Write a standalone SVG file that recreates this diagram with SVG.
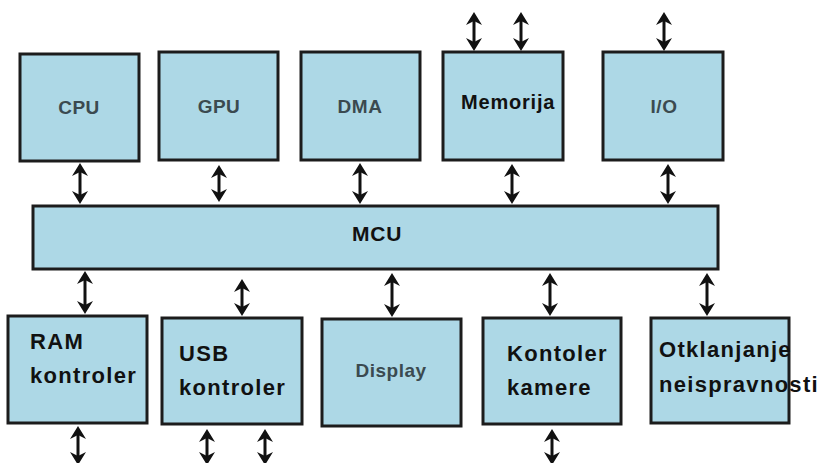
<svg xmlns="http://www.w3.org/2000/svg" width="821" height="463" viewBox="0 0 821 463">
<style>
.box{fill:#add8e6;stroke:#1c1c1c;stroke-width:3}
.g{font-family:"Liberation Sans",Arial,sans-serif;font-weight:bold;font-size:19px;fill:#3b4a50;text-anchor:middle;letter-spacing:0.5px}
.t{font-family:"Liberation Sans",Arial,sans-serif;font-weight:bold;font-size:22px;fill:#111;letter-spacing:1.3px}
.c{fill:none;stroke:#111;stroke-width:3;marker-start:url(#ah);marker-end:url(#ah)}
</style>
<defs>
<marker id="ah" markerUnits="userSpaceOnUse" markerWidth="14" markerHeight="16" viewBox="0 0 14 16" refX="10" refY="8" orient="auto-start-reverse">
<path d="M0,0 L13,8 L0,16 L4,8 z" fill="#111"/>
</marker>
</defs>
<rect width="821" height="463" fill="#fff"/>
<g id="cpu"><rect class="box" x="20" y="54" width="119" height="107"/><text class="g" x="79" y="114">CPU</text></g>
<g id="gpu"><rect class="box" x="159" y="52" width="119" height="108"/><text class="g" x="219" y="113">GPU</text></g>
<g id="dma"><rect class="box" x="301" y="52" width="119" height="108"/><text class="g" x="360" y="113">DMA</text></g>
<g id="memorija"><rect class="box" x="443" y="52" width="120" height="108"/><text class="t" x="461" y="109" style="font-size:20px;letter-spacing:0.8px">Memorija</text></g>
<g id="io"><rect class="box" x="603" y="52" width="120" height="108"/><text class="g" x="664" y="113">I/O</text></g>
<g id="mcu"><rect class="box" x="33" y="206" width="685" height="63"/><text class="t" x="352" y="241" style="font-size:21px;letter-spacing:0.8px">MCU</text></g>
<g id="ram"><rect class="box" x="8" y="316" width="139" height="107"/><text class="t" x="30" y="349">RAM</text><text class="t" x="30" y="383">kontroler</text></g>
<g id="usb"><rect class="box" x="162" y="318" width="140" height="106"/><text class="t" x="179" y="361">USB</text><text class="t" x="179" y="395">kontroler</text></g>
<g id="display"><rect class="box" x="322" y="319" width="139" height="107"/><text class="g" x="391" y="377">Display</text></g>
<g id="kamera"><rect class="box" x="483" y="318" width="138" height="106"/><text class="t" x="507" y="361">Kontoler</text><text class="t" x="507" y="395">kamere</text></g>
<g id="otklanjanje"><rect class="box" x="651" y="318" width="138" height="105"/><text class="t" x="659" y="357">Otklanjanje</text><text class="t" x="659" y="392">neispravnosti</text></g>
<g id="connectors">
<line class="c" x1="80" y1="166" x2="80" y2="201"/>
<line class="c" x1="219" y1="168" x2="219" y2="199"/>
<line class="c" x1="360" y1="166" x2="360" y2="201"/>
<line class="c" x1="512" y1="167" x2="512" y2="201"/>
<line class="c" x1="668" y1="167" x2="668" y2="201"/>
<line class="c" x1="474" y1="15" x2="474" y2="48"/>
<line class="c" x1="521" y1="15" x2="521" y2="48"/>
<line class="c" x1="664" y1="15" x2="664" y2="48"/>
<line class="c" x1="85" y1="274" x2="85" y2="311"/>
<line class="c" x1="242" y1="282" x2="242" y2="313"/>
<line class="c" x1="392" y1="276" x2="392" y2="314"/>
<line class="c" x1="550" y1="276" x2="550" y2="313"/>
<line class="c" x1="707" y1="276" x2="707" y2="313"/>
<line class="c" x1="78" y1="429" x2="78" y2="462"/>
<line class="c" x1="207" y1="432" x2="207" y2="462"/>
<line class="c" x1="265" y1="432" x2="265" y2="462"/>
<line class="c" x1="552" y1="432" x2="552" y2="462"/>
</g>
</svg>
